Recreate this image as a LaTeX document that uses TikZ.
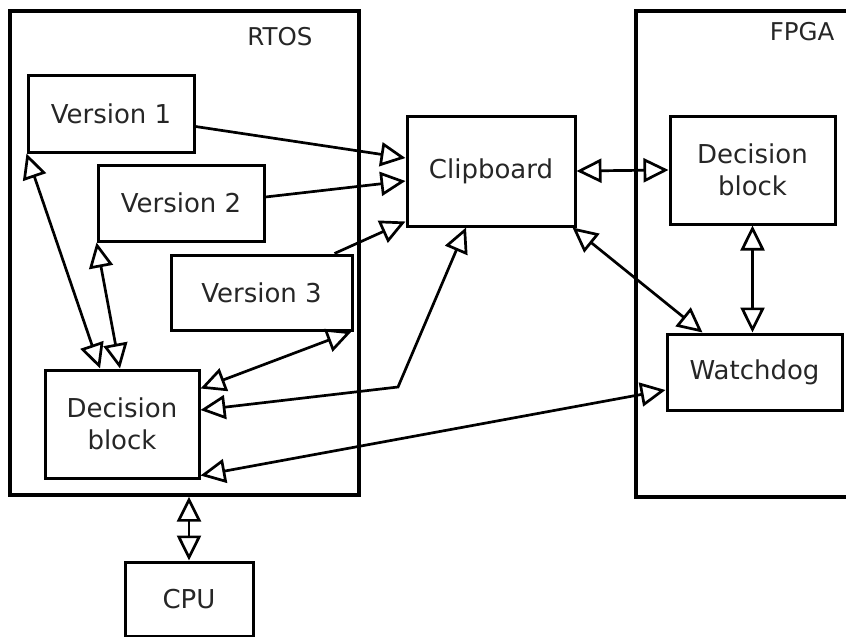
\documentclass[tikz,border=0pt]{standalone}
\usepackage{fontspec}
\setmainfont{DejaVu Sans}
\usetikzlibrary{positioning,arrows.meta}

\begin{document}
\begin{tikzpicture}[x=1pt,y=-1pt,
    blk/.style = {draw, line width=3pt, inner sep=0pt, align=center,
            text=black!85, font=\fontsize{26}{32}\selectfont},
    frame/.style = {draw, line width=3.4pt, inner sep=0pt},
    tag/.style = {text=black!85, font=\fontsize{24.5}{28}\selectfont},
    link/.style = {line width=2.7pt, {Triangle[open,length=25pt,width=24pt]}-{Triangle[open,length=25pt,width=24pt]}},
    feed/.style = {line width=2.7pt, -{Triangle[open,length=25pt,width=24pt]}}]
            \useasboundingbox (0,0) rectangle (846,637);
            % the two boards
            \node[frame, minimum width=349pt, minimum height=484pt] (rtos) at (184.5,253) {};
            \node[frame, minimum width=234pt, minimum height=486pt] (fpga) at (753,254) {};
            \node[tag] (rtoslbl) at (280,37) {RTOS};
            \node[tag, anchor=east] (fpgalbl) at (838,32) {FPGA};
            % blocks on the RTOS side
            \node[blk, minimum width=166pt, minimum height=77pt] (v1) at (111,113.5) {Version 1};
            \node[blk, minimum width=166pt, minimum height=76pt] (v2) at (181,203) {Version 2};
            \node[blk, minimum width=181pt, minimum height=75pt] (v3) at (261.5,292.5) {Version 3};
            \node[blk, minimum width=154pt, minimum height=108pt] (dec) at (122,424) {Decision\\block};
            \node[blk, minimum width=128pt, minimum height=74pt] (cpu) at (189,599) {CPU};
            \node[blk, minimum width=168pt, minimum height=110pt] (clip) at (491,171) {Clipboard};
            % blocks on the FPGA side
            \node[blk, minimum width=165pt, minimum height=108pt] (fdec) at (752.5,170) {Decision\\block};
            \node[blk, minimum width=175pt, minimum height=76pt] (wdog) at (754.5,372) {Watchdog};
            \coordinate (bend) at (398,387);
            % versions to clipboard
            \draw[feed] ([yshift=-13pt]v1.east) -- ([yshift=13pt]clip.west);
            \draw[feed] ([yshift=6pt]v2.east) -- ([yshift=-10pt]clip.west);
            \draw[feed] ([xshift=73pt]v3.north) -- ([yshift=6pt]clip.south west);
            % versions to decision block
            \draw[link] (v1.south west) -- ([xshift=-22pt]dec.north);
            \draw[link] (v2.south west) -- ([xshift=-2pt]dec.north);
            \draw[link] ([xshift=-2pt]v3.south east) -- ([yshift=-20pt]dec.north east);
            \draw[link] ([xshift=-25pt]clip.south) -- (bend) -- ([yshift=14pt]dec.east);
            \draw[link] ([yshift=-18pt]wdog.west) -- ([yshift=4pt]dec.south east);
            \draw[link] (clip.east) -- (fdec.west);
            \draw[link] ([xshift=-4pt]clip.south east) -- ([xshift=-52pt]wdog.north);
            \draw[link] (fdec.south) -- (fdec.south |- wdog.north);
            \draw[link] (cpu.north |- rtos.south) -- (cpu.north);
        \end{tikzpicture}
\end{document}
